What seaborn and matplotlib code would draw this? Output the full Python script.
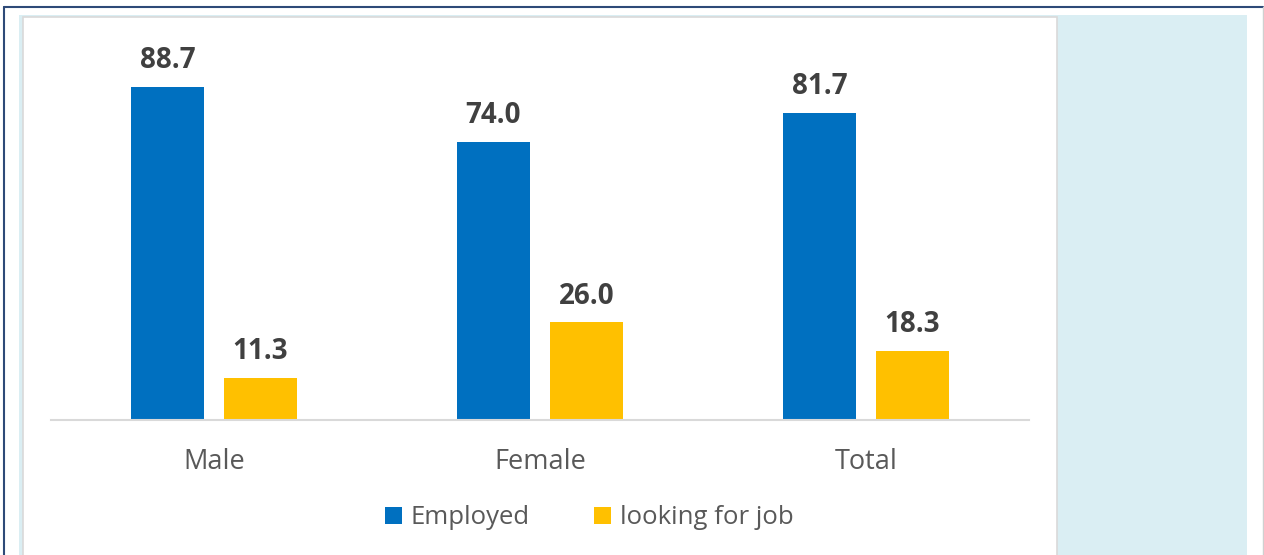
import matplotlib
matplotlib.use("Agg")
import matplotlib.pyplot as plt
from matplotlib.patches import Rectangle, Patch
from matplotlib.lines import Line2D
import seaborn as sns
import pandas as pd

# ── Data ──────────────────────────────────────────────────────────────────────
groups = ["Male", "Female", "Total"]
status = ["Employed", "looking for job"]
employed = [88.7, 74.0, 81.7]
looking = [11.3, 26.0, 18.3]

COLORS = {"Employed": "#0070C0", "looking for job": "#FFC000"}

df = pd.DataFrame({
    "group": groups * 2,
    "status": [status[0]] * 3 + [status[1]] * 3,
    "value": employed + looking,
})

# ── Style ─────────────────────────────────────────────────────────────────────
sns.set_style("white")
plt.rcParams["font.family"] = ["Open Sans", "DejaVu Sans"]

W, H = 1264, 555
fig = plt.figure(figsize=(W / 100, H / 100), dpi=100)


def px_rect(x0, y0, x1, y1, **kw):
    """Rectangle in pixel coords (origin top-left)."""
    r = Rectangle((x0 / W, 1 - y1 / H), (x1 - x0) / W, (y1 - y0) / H,
                  transform=fig.transFigure, **kw)
    fig.patches.append(r)


# Khung nền: panel xanh nhạt + vùng trắng
px_rect(19, 15, 1247, 560, facecolor="#DAEEF3", edgecolor="none", zorder=-2)
px_rect(23.5, 17, 1056.5, 560, facecolor="white", edgecolor="#D9D9D9",
        linewidth=1.2, zorder=-1)
# Viền ngoài
fig.add_artist(Line2D([3.5 / W, 3.5 / W], [0, 1 - 6.5 / H], color="#2E4A78",
                      linewidth=1.5, transform=fig.transFigure))
fig.add_artist(Line2D([3.5 / W, 1263 / W], [1 - 6.5 / H, 1 - 6.5 / H], color="#2E4A78",
                      linewidth=1.5, transform=fig.transFigure))
fig.add_artist(Line2D([1263 / W, 1263 / W], [0, 1 - 6.5 / H], color="#D0D0D0",
                      linewidth=1.0, transform=fig.transFigure))

# ── Axes ──────────────────────────────────────────────────────────────────────
ax_left, ax_right, ax_base = 51, 1029, 420
ymax = 100
ax_top = ax_base - ymax * 3.757
ax = fig.add_axes([ax_left / W, 1 - ax_base / H,
                   (ax_right - ax_left) / W, (ax_base - ax_top) / H])
ax.set_facecolor("none")

sns.barplot(data=df, x="group", y="value", hue="status", order=groups,
            hue_order=status, palette=COLORS, saturation=1,
            width=0.5706, gap=0.215, linewidth=0, ax=ax, legend=False)

for container in ax.containers:
    ax.bar_label(container, fmt="%.1f", padding=8.5, fontsize=20,
                 fontweight="bold", color="#404040")

ax.set_xlim(-0.5, 2.5)
ax.set_ylim(0, ymax)
ax.set_xlabel("")
ax.set_ylabel("")
ax.set_yticks([])
ax.tick_params(axis="x", length=0, pad=20, labelsize=19.5, labelcolor="#595959")
for side in ["top", "right", "left"]:
    ax.spines[side].set_visible(False)
ax.spines["bottom"].set_color("#D9D9D9")
ax.spines["bottom"].set_linewidth(1.5)

# ── Legend ────────────────────────────────────────────────────────────────────
handles = [Patch(facecolor=COLORS[s], edgecolor="none", label=s) for s in status]
fig.legend(handles=handles, loc="center", bbox_to_anchor=(589 / W, 1 - 518 / H),
           ncol=2, frameon=False, fontsize=18.5, labelcolor="#595959",
           handlelength=0.68, handleheight=0.68, handletextpad=0.32,
           columnspacing=2.5)

fig.savefig("out.png", dpi=100)
